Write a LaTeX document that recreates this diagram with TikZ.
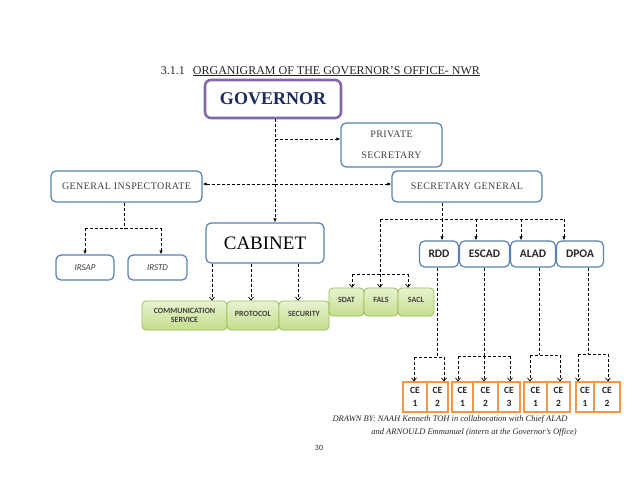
\documentclass[tikz,border=0pt]{standalone}
\usepackage{fontspec}
\setmainfont{Liberation Serif}
\newfontfamily\calfont{Carlito}
\usetikzlibrary{arrows.meta}
\definecolor{boxblue}{HTML}{5B80B2}
\definecolor{govpurple}{HTML}{8467AA}
\definecolor{govtext}{HTML}{1F2A5C}
\definecolor{grnborder}{HTML}{9BBB59}
\definecolor{grntop}{HTML}{E8F3D0}
\definecolor{grnbot}{HTML}{C4DE8C}
\definecolor{ceorange}{HTML}{F79646}
\definecolor{txtgray}{HTML}{404040}
\tikzset{
  bluebox/.style={draw=boxblue, line width=1.2pt, rounded corners=5pt, fill=white, inner sep=0pt, align=center},
  govbox/.style={draw=govpurple, line width=2.6pt, rounded corners=6pt, fill=white, inner sep=0pt},
  greenbox/.style={draw=grnborder, line width=0.8pt, rounded corners=4pt, top color=grntop, bottom color=grnbot, inner sep=0pt, align=center, font=\calfont\bfseries\fontsize{8}{10}\selectfont, text=txtgray},
  cebox/.style={draw=ceorange, line width=1.2pt, fill=white, inner sep=0pt, align=center, minimum height=30pt, font=\calfont\bfseries\fontsize{9.5}{13}\selectfont, text=black!85},
  unitbox/.style={bluebox, minimum height=26pt, font=\calfont\bfseries\fontsize{11.5}{12}\selectfont, text=black!85},
  sclabel/.style={font=\fontsize{10}{21}\selectfont\addfontfeature{LetterSpace=4}, text=txtgray},
  dl/.style={dash pattern=on 3pt off 2pt, line width=0.7pt, black},
  da/.style={dl, -{Latex[length=4pt,width=3.5pt]}},
  dv/.style={dl, -{Straight Barb[length=3pt,width=5pt]}},
}
\begin{document}
\begin{tikzpicture}[x=1pt,y=-1pt]
\useasboundingbox (0,0) rectangle (638,493);
\fill[white] (0,0) rectangle (638,493);

% title
\node[anchor=base, inner sep=0pt, text=black!85, font=\fontsize{12}{14}\selectfont] (title) at (320.5,74)
  {3.1.1\hspace{8pt}\underline{ORGANIGRAM OF THE GOVERNOR'S OFFICE- NWR}};

% main boxes
\node[govbox, minimum width=136pt, minimum height=38pt, font=\bfseries\fontsize{18}{20}\selectfont, text=govtext] (gov) at (273,99) {GOVERNOR};
\node[bluebox, minimum width=101pt, minimum height=44pt, sclabel] (ps) at (391.5,145) {PRIVATE\\SECRETARY};
\node[bluebox, minimum width=151pt, minimum height=31pt, sclabel] (gi) at (126.5,186.5) {GENERAL INSPECTORATE};
\node[bluebox, minimum width=150pt, minimum height=31pt, sclabel] (sg) at (467,186.5) {SECRETARY GENERAL};
\node[bluebox, minimum width=118pt, minimum height=40pt, font=\fontsize{19}{20}\selectfont] (cab) at (265,243) {CABINET};
\node[bluebox, minimum width=58pt, minimum height=25pt, font=\calfont\itshape\fontsize{9}{10}\selectfont, text=txtgray] (irsap) at (85,267.5) {IRSAP};
\node[bluebox, minimum width=59pt, minimum height=25pt, font=\calfont\itshape\fontsize{9}{10}\selectfont, text=txtgray] (irstd) at (157.5,267.5) {IRSTD};

% units
\node[unitbox, minimum width=39pt] (rdd) at (439,254) {RDD};
\node[unitbox, minimum width=50pt] (escad) at (484.5,254) {ESCAD};
\node[unitbox, minimum width=45pt] (alad) at (533,254) {ALAD};
\node[unitbox, minimum width=47pt] (dpoa) at (580,254) {DPOA};

% green boxes
\node[greenbox, minimum width=85pt, minimum height=29pt] (comm) at (184.5,315.5) {\raisebox{2pt}{\begin{tabular}{@{}c@{}}COMMUNICATION\\[-1pt]SERVICE\end{tabular}}};
\node[greenbox, minimum width=52pt, minimum height=29pt] (prot) at (253,315.5) {\raisebox{3pt}{PROTOCOL}};
\node[greenbox, minimum width=50pt, minimum height=29pt] (secu) at (304,315.5) {\raisebox{3pt}{SECURITY}};
\node[greenbox, minimum width=35pt, minimum height=28pt] (sdat) at (346.5,302) {\raisebox{5pt}{SDAT}};
\node[greenbox, minimum width=34pt, minimum height=28pt] (fals) at (381,302) {\raisebox{5pt}{FALS}};
\node[greenbox, minimum width=36pt, minimum height=28pt] (sacl) at (416,302) {\raisebox{5pt}{SACL}};

% CE boxes
\node[cebox, minimum width=24pt] (ce11) at (415,397) {CE\\1};
\node[cebox, minimum width=21pt] (ce12) at (437.5,397) {CE\\2};
\node[cebox, minimum width=21pt] (ce21) at (462.5,397) {CE\\1};
\node[cebox, minimum width=25pt] (ce22) at (485.5,397) {CE\\2};
\node[cebox, minimum width=22pt] (ce23) at (509,397) {CE\\3};
\node[cebox, minimum width=23pt] (ce31) at (535.5,397) {CE\\1};
\node[cebox, minimum width=23pt] (ce32) at (558.5,397) {CE\\2};
\node[cebox, minimum width=18pt] (ce41) at (585,397) {CE\\1};
\node[cebox, minimum width=26pt] (ce42) at (607,397) {CE\\2};

% connectors: governor
\coordinate (j1) at (275,139);
\coordinate (j2) at (275,184);
\draw[da] (gov.south -| j1) -- (cab.north -| j1);
\draw[da] (j1) -- (ps.west |- j1);
\draw[da] (j2) -- (gi.east |- j2);
\draw[da] (j2) -- (sg.west |- j2);

% GI
\coordinate (g0) at (124,228);
\coordinate (g1) at (85,228);
\coordinate (g2) at (161,228);
\draw[dl] (gi.south -| g0) -- (g0);
\draw[dl] (g1) -- (g2);
\draw[da] (g1) -- (irsap.north -| g1);
\draw[da] (g2) -- (irstd.north -| g2);

% cabinet
\coordinate (c1) at (212,0);
\coordinate (c2) at (251,0);
\coordinate (c3) at (298,0);
\draw[dv] (cab.south -| c1) -- (comm.north -| c1);
\draw[dv] (cab.south -| c2) -- (prot.north -| c2);
\draw[dv] (cab.south -| c3) -- (secu.north -| c3);

% SG
\coordinate (s0) at (442,219);
\coordinate (sL) at (380,219);
\coordinate (sR) at (564,219);
\coordinate (s2) at (476,219);
\coordinate (s3) at (521,219);
\draw[dl] (sg.south -| s0) -- (s0);
\draw[dl] (sL) -- (sR);
\draw[da] (s0) -- (rdd.north -| s0);
\draw[da] (s2) -- (escad.north -| s2);
\draw[da] (s3) -- (alad.north -| s3);
\draw[da] (sR) -- (dpoa.north -| sR);
\coordinate (t0) at (380,274);
\coordinate (t1) at (352,274);
\coordinate (t2) at (408,274);
\draw[dl] (sL) -- (t0);
\draw[dl] (t1) -- (t2);
\draw[dv] (t1) -- (sdat.north -| t1);
\draw[dv] (t0) -- (fals.north -| t0);
\draw[dv] (t2) -- (sacl.north -| t2);

% RDD
\coordinate (r0) at (437,357);
\coordinate (r1) at (414,357);
\coordinate (r2) at (444,357);
\draw[dl] (rdd.south -| r0) -- (r0);
\draw[dl] (r1) -- (r2);
\draw[dv] (r1) -- (ce11.north -| r1);
\draw[dv] (r2) -- (ce12.north -| r2);

% ESCAD
\coordinate (e0) at (484,356);
\coordinate (e1) at (458,356);
\coordinate (e3) at (510,356);
\draw[dl] (escad.south -| e0) -- (e0);
\draw[dl] (e1) -- (e3);
\draw[dv] (e1) -- (ce21.north -| e1);
\draw[dv] (e0) -- (ce22.north -| e0);
\draw[dv] (e3) -- (ce23.north -| e3);

% ALAD
\coordinate (a0) at (539,355);
\coordinate (a1) at (530,355);
\coordinate (a2) at (560,355);
\draw[dl] (alad.south -| a0) -- (a0);
\draw[dl] (a1) -- (a2);
\draw[dv] (a1) -- (ce31.north -| a1);
\draw[dv] (a2) -- (ce32.north -| a2);

% DPOA
\coordinate (d0) at (588,354);
\coordinate (d1) at (578,354);
\coordinate (d2) at (608,354);
\draw[dl] (dpoa.south -| d0) -- (d0);
\draw[dl] (d1) -- (d2);
\draw[dv] (d1) -- (ce41.north -| d1);
\draw[dv] (d2) -- (ce42.north -| d2);

% credits
\node[anchor=base, inner sep=0pt, font=\itshape\fontsize{8.5}{10}\selectfont, text=black!85] (cred1) at (450,421) {DRAWN BY: NAAH Kenneth TOH in collaboration with Chief ALAD};
\node[anchor=base, inner sep=0pt, font=\itshape\fontsize{8.5}{10}\selectfont, text=black!85] (cred2) at (474,434) {and ARNOULD Emmanuel (intern at the Governor's Office)};
\node[anchor=base, inner sep=0pt, font=\calfont\fontsize{8}{10}\selectfont, text=black!80] (pg) at (319,450) {30};
\end{tikzpicture}
\end{document}
